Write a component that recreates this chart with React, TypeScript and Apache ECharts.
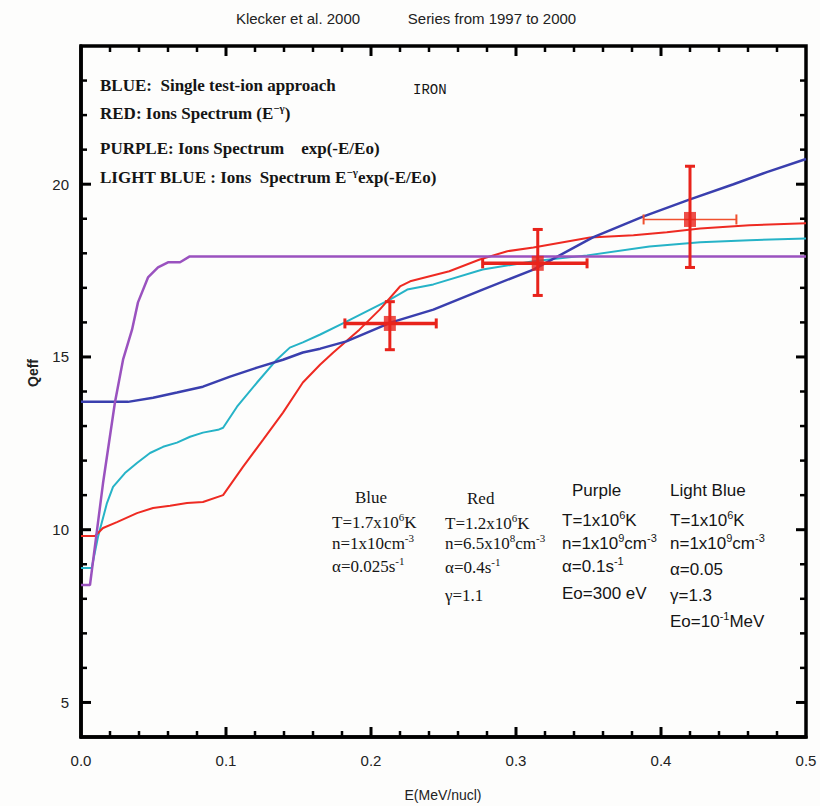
import React, { useEffect, useRef } from "react";
import * as echarts from "echarts";

// ---- data ----
const blueCurve: [number, number][] = [
  [0, 13.7], [0.0324, 13.7], [0.0497, 13.82], [0.0662, 13.97], [0.0841, 14.14], [0.1028, 14.43],
  [0.1214, 14.69], [0.1393, 14.92], [0.153, 15.13], [0.165, 15.24], [0.183, 15.45], [0.214, 16.0],
  [0.243, 16.37], [0.277, 16.95], [0.312, 17.53], [0.353, 18.46], [0.388, 19.07], [0.42, 19.56],
  [0.45, 20.0], [0.473, 20.35], [0.5, 20.73],
];
const redCurve: [number, number][] = [
  [0, 9.82], [0.0097, 9.82], [0.0152, 10.05], [0.0248, 10.22], [0.0386, 10.48], [0.0497, 10.63],
  [0.0614, 10.69], [0.0731, 10.77], [0.0841, 10.8], [0.098, 11.0], [0.1117, 11.82], [0.1255, 12.6],
  [0.1393, 13.39], [0.153, 14.26], [0.165, 14.78], [0.174, 15.13], [0.192, 15.79], [0.206, 16.37],
  [0.22, 17.04], [0.227, 17.19], [0.254, 17.48], [0.275, 17.82], [0.294, 18.06], [0.312, 18.17],
  [0.351, 18.46], [0.381, 18.52], [0.404, 18.61], [0.427, 18.72], [0.461, 18.81], [0.5, 18.87],
];
const purpleCurve: [number, number][] = [
  [0, 8.4], [0.0062, 8.4], [0.0152, 11.35], [0.0234, 13.68], [0.029, 14.92], [0.0352, 15.79],
  [0.0393, 16.58], [0.0462, 17.3], [0.0531, 17.59], [0.06, 17.74], [0.0683, 17.74], [0.075, 17.91],
  [0.5, 17.91],
];
const cyanCurve: [number, number][] = [
  [0, 8.89], [0.0074, 8.89], [0.0117, 9.79], [0.0179, 10.77], [0.0221, 11.24], [0.0303, 11.64],
  [0.0386, 11.93], [0.0476, 12.22], [0.0566, 12.4], [0.0662, 12.52], [0.0752, 12.69], [0.0841, 12.81],
  [0.0945, 12.89], [0.098, 12.95], [0.1076, 13.56], [0.1214, 14.26], [0.135, 14.92], [0.144, 15.27],
  [0.153, 15.42], [0.165, 15.65], [0.182, 16.0], [0.213, 16.66], [0.225, 16.95], [0.243, 17.1],
  [0.277, 17.53], [0.312, 17.77], [0.349, 17.94], [0.392, 18.2], [0.427, 18.32], [0.461, 18.38],
  [0.5, 18.43],
];
// measured points with error bars
const measE = [0.213, 0.315, 0.42];
const measQ = [15.97, 17.71, 18.98];
const measELo = [0.182, 0.277, 0.388];
const measEHi = [0.245, 0.349, 0.452];
const measQLo = [15.21, 16.78, 17.59];
const measQHi = [16.6, 18.69, 20.52];

// tick positions (drawn on all four sides, pointing inward)
const xMajorTicks = [0.1, 0.2, 0.3, 0.4];
const xMinorTicks = [0.02, 0.04, 0.06, 0.08, 0.12, 0.14, 0.16, 0.18, 0.22, 0.24, 0.26, 0.28, 0.32, 0.34, 0.36, 0.38, 0.42, 0.44, 0.46, 0.48];
const yMajorTicks = [5, 10, 15, 20];
const yMinorTicks = [6, 7, 8, 9, 11, 12, 13, 14, 16, 17, 18, 19, 21, 22, 23];

const titleTexts = ["Klecker et al. 2000", "Series from 1997 to 2000"];
const legendLines = [
  "BLUE:  Single test-ion approach",
  "RED: Ions Spectrum (E{s|\u2212\u03b3})",
  "PURPLE: Ions Spectrum    exp(-E/Eo)",
  "LIGHT BLUE : Ions  Spectrum E{s|\u2212\u03b3}exp(-E/Eo)",
];
const blueNotes = ["Blue", "T=1.7x10{s|6}K", "n=1x10cm{s|-3}", "\u03b1=0.025s{s|-1}"];
const redNotes = ["Red", "T=1.2x10{s|6}K", "n=6.5x10{s|8}cm{s|-3}", "\u03b1=0.4s{s|-1}", "\u03b3=1.1"];
const purpleNotes = ["Purple", "T=1x10{s|6}K", "n=1x10{s|9}cm{s|-3}", "\u03b1=0.1s{s|-1}", "Eo=300 eV"];
const lightBlueNotes = ["Light Blue", "T=1x10{s|6}K", "n=1x10{s|9}cm{s|-3}", "\u03b1=0.05", "\u03b3=1.3", "Eo=10{s|-1}MeV"];

const SERIF = "'Liberation Serif', 'DejaVu Serif', serif";
const SANS = "'Liberation Sans', Arial, sans-serif";
const X_MIN = 0, X_MAX = 0.5, Y_MIN = 4, Y_MAX = 24;

function txt(x: number, y: number, text: string, o: any = {}) {
  const size = o.size ?? 16;
  return {
    type: "text",
    x,
    y,
    z: 100,
    style: {
      text,
      fill: o.fill ?? "#151515",
      fontSize: size,
      fontFamily: o.family ?? SERIF,
      fontWeight: o.weight ?? "normal",
      textAlign: o.align ?? "left",
      textVerticalAlign: "middle",
      lineHeight: size + 4,
      rich: {
        s: { fontSize: Math.round(size * 0.62), verticalAlign: "top", lineHeight: size + 4, fontFamily: o.family ?? SERIF, fontWeight: o.weight ?? "normal" },
      },
    },
  };
}

export default function App() {
  const ref = useRef<HTMLDivElement>(null);
  useEffect(() => {
    if (!ref.current) return;
    const chart = echarts.init(ref.current, null, { renderer: "svg" });

    const errData = measE.map((e, i) => [e, measQ[i], measELo[i], measEHi[i], measQLo[i], measQHi[i], i === 2 ? 1.6 : 3.5]);

    const lineSeries = (data: [number, number][], color: string, width: number) => ({
      type: "line",
      data,
      showSymbol: false,
      symbol: "none",
      lineStyle: { color, width },
      z: 3,
    });

    chart.setOption({
      animation: false,
      backgroundColor: "#fdfdfc",
      grid: { left: 81, right: 14, top: 46, bottom: 69, show: true, borderColor: "#000", borderWidth: 3.5, backgroundColor: "transparent" },
      xAxis: {
        type: "value",
        min: X_MIN,
        max: X_MAX,
        interval: 0.1,
        axisLine: { show: true, onZero: false, lineStyle: { color: "#000", width: 3.5 } },
        axisTick: { show: false },
        splitLine: { show: false },
        axisLabel: { show: true, formatter: (v: number) => v.toFixed(1), fontSize: 15, fontFamily: SANS, color: "#222", margin: 16 },
      },
      yAxis: {
        type: "value",
        min: Y_MIN,
        max: Y_MAX,
        interval: 1,
        axisLine: { show: true, onZero: false, lineStyle: { color: "#000", width: 3.5 } },
        axisTick: { show: false },
        splitLine: { show: false },
        axisLabel: {
          show: true,
          formatter: (v: number) => (v % 5 === 0 ? String(v) : ""),
          fontSize: 15,
          fontFamily: SANS,
          color: "#222",
          margin: 12,
        },
      },
      series: [
        lineSeries(cyanCurve, "#26b3c7", 2),
        lineSeries(redCurve, "#ee2a22", 2),
        lineSeries(blueCurve, "#3a3fae", 2.5),
        lineSeries(purpleCurve, "#9a52bf", 2.5),
        {
          type: "custom",
          data: errData,
          encode: { x: 0, y: 1 },
          z: 5,
          renderItem: (params: any, api: any) => {
            const x = api.value(0);
            const y = api.value(1);
            const hw = api.value(6);
            const pl = api.coord([api.value(2), y]);
            const ph = api.coord([api.value(3), y]);
            const pb = api.coord([x, api.value(4)]);
            const pt = api.coord([x, api.value(5)]);
            const hColor = hw < 2 ? "#f0502e" : "#e8231b";
            const vColor = "#e8231b";
            const cap = 5;
            const L = (x1: number, y1: number, x2: number, y2: number, c: string, w: number) => ({
              type: "line",
              shape: { x1, y1, x2, y2 },
              style: { stroke: c, lineWidth: w },
            });
            return {
              type: "group",
              children: [
                L(pl[0], pl[1], ph[0], ph[1], hColor, hw),
                L(pl[0], pl[1] - cap, pl[0], pl[1] + cap, hColor, hw < 2 ? 2 : 3),
                L(ph[0], ph[1] - cap, ph[0], ph[1] + cap, hColor, hw < 2 ? 2 : 3),
                L(pb[0], pb[1], pt[0], pt[1], vColor, 3),
                L(pb[0] - cap, pb[1], pb[0] + cap, pb[1], vColor, 3),
                L(pt[0] - cap, pt[1], pt[0] + cap, pt[1], vColor, 3),
              ],
            };
          },
        },
        {
          type: "scatter",
          data: measE.map((e, i) => [e, measQ[i]]),
          symbol: "rect",
          symbolSize: [12, 15],
          itemStyle: { color: "#e8231b" },
          z: 6,
        },
      ],
    });

    // inward ticks on all four sides, placed through the chart's own axis scales
    const px = (x: number, y: number) => chart.convertToPixel({ gridIndex: 0 }, [x, y]) as number[];
    const els: any[] = [];
    const tick = (x1: number, y1: number, x2: number, y2: number, w: number) =>
      els.push({ type: "line", z: 50, shape: { x1, y1, x2, y2 }, style: { stroke: "#000", lineWidth: w } });
    const addX = (v: number, len: number, w: number) => {
      const b = px(v, Y_MIN);
      const t = px(v, Y_MAX);
      tick(b[0], b[1], b[0], b[1] - len, w);
      tick(t[0], t[1], t[0], t[1] + len, w);
    };
    const addY = (v: number, len: number, w: number) => {
      const l = px(X_MIN, v);
      const r = px(X_MAX, v);
      tick(l[0], l[1], l[0] + len, l[1], w);
      tick(r[0], r[1], r[0] - len, r[1], w);
    };
    xMajorTicks.forEach((v) => addX(v, 10, 3));
    xMinorTicks.forEach((v) => addX(v, 6, 2.5));
    yMajorTicks.forEach((v) => addY(v, 10, 3));
    yMinorTicks.forEach((v) => addY(v, 6, 2.5));

    // texts
    els.push(txt(298, 18, titleTexts[0], { family: SANS, size: 15, align: "center", fill: "#222" }));
    els.push(txt(492, 18, titleTexts[1], { family: SANS, size: 15, align: "center", fill: "#222" }));
    const legY = [85, 113, 148, 177];
    legendLines.forEach((t, i) => els.push(txt(100, legY[i], t, { size: 17, weight: "bold" })));
    els.push(txt(413, 90, "IRON", { family: "'Liberation Mono', 'DejaVu Sans Mono', monospace", size: 14 }));
    const blueY = [497, 522, 543, 566];
    blueNotes.forEach((t, i) => els.push(txt(i === 0 ? 355 : 332, blueY[i], t, { size: 17 })));
    const redY = [498, 523, 543, 567, 595];
    redNotes.forEach((t, i) => els.push(txt(i === 0 ? 467 : 445, redY[i], t, { size: 17 })));
    const purY = [490, 520, 543, 566, 593];
    purpleNotes.forEach((t, i) => els.push(txt(i === 0 ? 572 : 562, purY[i], t, { size: 17, family: SANS })));
    const lbY = [490, 520, 543, 569, 595, 621];
    lightBlueNotes.forEach((t, i) => els.push(txt(670, lbY[i], t, { size: 17, family: SANS })));
    els.push({
      type: "text",
      x: 33,
      y: 373,
      rotation: Math.PI / 2,
      style: { text: "Qeff", fontSize: 14, fontFamily: SANS, fontWeight: "bold", fill: "#222", textAlign: "center", textVerticalAlign: "middle" },
    });
    els.push(txt(443, 795, "E(MeV/nucl)", { family: SANS, size: 14, align: "center", fill: "#222" }));

    chart.setOption({ graphic: els });

    return () => chart.dispose();
  }, []);
  return <div ref={ref} style={{ position: "fixed", left: 0, top: 0, width: 820, height: 806 }} />;
}
